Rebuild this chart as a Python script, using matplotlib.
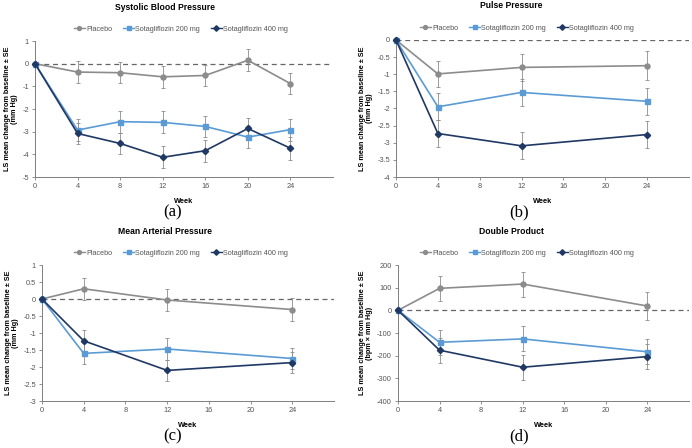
# IMPORT PACKAGES
from matplotlib import pyplot as plt
from matplotlib.lines import Line2D

# DATA
weeks_a = [0, 4, 8, 12, 16, 20, 24]
weeks_b = [0, 4, 12, 24]

sbp_placebo = [0, -0.37, -0.40, -0.58, -0.52, 0.15, -0.88]
sbp_200 = [0, -2.93, -2.56, -2.59, -2.77, -3.24, -2.91]
sbp_400 = [0, -3.08, -3.52, -4.13, -3.84, -2.86, -3.73]
sbp_err_placebo = [0, 0.47, 0.46, 0.48, 0.48, 0.48, 0.48]
sbp_err_200 = [0, 0.47, 0.48, 0.48, 0.48, 0.48, 0.48]
sbp_err_400 = [0, 0.46, 0.48, 0.48, 0.48, 0.48, 0.50]

pp_placebo = [0, -0.99, -0.80, -0.75]
pp_200 = [0, -1.95, -1.53, -1.79]
pp_400 = [0, -2.73, -3.09, -2.76]
pp_err_placebo = [0, 0.38, 0.40, 0.42]
pp_err_200 = [0, 0.39, 0.40, 0.40]
pp_err_400 = [0, 0.38, 0.39, 0.40]

map_placebo = [0, 0.30, -0.03, -0.31]
map_200 = [0, -1.60, -1.47, -1.75]
map_400 = [0, -1.23, -2.10, -1.87]
map_err_placebo = [0, 0.32, 0.32, 0.33]
map_err_200 = [0, 0.32, 0.33, 0.32]
map_err_400 = [0, 0.32, 0.32, 0.32]

dp_placebo = [0, 97, 116, 19]
dp_200 = [0, -141, -126, -183]
dp_400 = [0, -176, -251, -204]
dp_err_placebo = [0, 55, 55, 60]
dp_err_200 = [0, 55, 55, 55]
dp_err_400 = [0, 55, 55, 56]

group_names = ["Placebo", "Sotagliflozin 200 mg", "Sotagliflozin 400 mg"]
colors = ["#8c8c8c", "#5b9bd5", "#1f3864"]
markers = ["o", "s", "D"]
msizes = [3.6, 3.6, 3.2]

titles = ["Systolic Blood Pressure", "Pulse Pressure", "Mean Arterial Pressure", "Double Product"]
units = ["(mm Hg)", "(mm Hg)", "(mm Hg)", "(bpm \u00d7 mm Hg)"]
panel_labels = ["(a)", "(b)", "(c)", "(d)"]
ylims = [(-5, 1), (-4, 0), (-3, 1), (-400, 200)]
ysteps = [1, 0.5, 0.5, 100]

# FIGURE
plt.rcParams["font.family"] = ["Liberation Sans", "DejaVu Sans"]
fig = plt.figure(figsize=(6.92, 4.48), dpi=100)

W, H = 692, 448
# axes boxes in pixels: left, right, top, bottom
boxes = [(35, 333, 41, 177), (396, 689, 40, 177), (42, 334, 265, 401), (398, 689, 265, 401)]

panels = [
    (weeks_a, [sbp_placebo, sbp_200, sbp_400], [sbp_err_placebo, sbp_err_200, sbp_err_400]),
    (weeks_b, [pp_placebo, pp_200, pp_400], [pp_err_placebo, pp_err_200, pp_err_400]),
    (weeks_b, [map_placebo, map_200, map_400], [map_err_placebo, map_err_200, map_err_400]),
    (weeks_b, [dp_placebo, dp_200, dp_400], [dp_err_placebo, dp_err_200, dp_err_400]),
]

for i, (weeks, series, errs) in enumerate(panels):
    l, r, t, b = boxes[i]
    ax = fig.add_axes([l / W, 1 - b / H, (r - l) / W, (b - t) / H])
    ax.axhline(0, color="#666666", lw=0.9, ls=(0, (4, 3)), zorder=1)
    for j in range(3):
        ax.errorbar(weeks, series[j], yerr=errs[j], fmt="none", ecolor="#8c8c8c",
                    elinewidth=0.6, capsize=1.6, capthick=0.6, zorder=2)
        ax.plot(weeks, series[j], color=colors[j], marker=markers[j], ms=msizes[j],
                lw=1.2, zorder=3 + j, clip_on=False)
    ax.set_xlim(0, 28)
    ax.set_xticks([0, 4, 8, 12, 16, 20, 24])
    lo, hi = ylims[i]
    ax.set_ylim(lo, hi)
    n = int(round((hi - lo) / ysteps[i]))
    ticks = [lo + k * ysteps[i] for k in range(n + 1)]
    ax.set_yticks(ticks)
    ax.set_yticklabels(["%g" % v for v in ticks])
    for s in ["top", "right"]:
        ax.spines[s].set_visible(False)
    for s in ["left", "bottom"]:
        ax.spines[s].set_color("#7f7f7f")
        ax.spines[s].set_linewidth(0.7)
    ax.tick_params(labelsize=5.3, colors="#7f7f7f", labelcolor="#555555",
                   length=2.5, width=0.6, pad=1.8)
    ax.set_xlabel("Week", fontsize=5.3, fontweight="bold", labelpad=6)
    ax.set_ylabel("LS mean change from baseline \u00b1 SE\n" + units[i],
                  fontsize=5.2, fontweight="bold", labelpad=3, linespacing=1.05)

    # title, legend and panel label
    fig.text((165 + 346 * (i % 2)) / W, 1 - (t - 34) / H, titles[i],
             ha="center", va="center", fontsize=6.2, fontweight="bold")
    handles = [Line2D([], [], color=colors[j], marker=markers[j], ms=2.8, lw=1.0)
               for j in range(3)]
    fig.legend(handles, group_names, loc="center",
               bbox_to_anchor=((181 + 346 * (i % 2)) / W, 1 - (t - 12) / H),
               ncol=3, frameon=False, fontsize=5.2, handlelength=1.5, handletextpad=0.2,
               columnspacing=1.5, labelcolor="#555555")
    fig.text((173 + 346 * (i % 2)) / W, 1 - (b + 35) / H, panel_labels[i],
             ha="center", va="center", fontsize=12, family="Liberation Serif")

fig.savefig("out.png", dpi=100)
